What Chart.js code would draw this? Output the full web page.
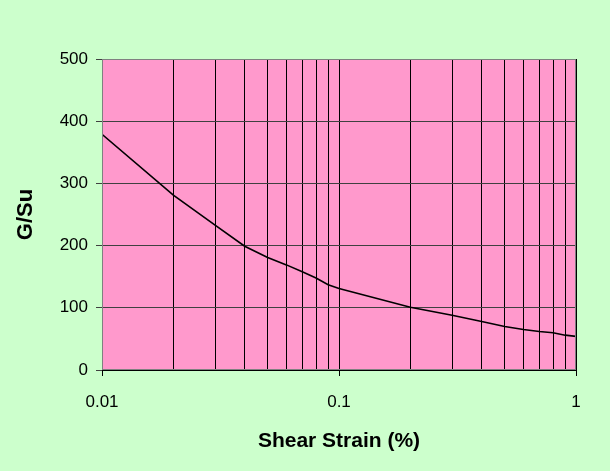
<!DOCTYPE html>
<html>
<head>
<meta charset="utf-8">
<script src="https://cdn.jsdelivr.net/npm/chart.js@4/dist/chart.umd.min.js"></script>
<style>
  html, body { margin: 0; padding: 0; background: #ccffcc; }
  #wrap { width: 610px; height: 471px; }
</style>
</head>
<body>
<div id="wrap"><canvas id="grafico" width="610" height="471"></canvas></div>
<script>
// shear strain (%) and G/Su
const strain = [0.01, 0.02, 0.03, 0.04, 0.05, 0.06, 0.07, 0.08, 0.09, 0.1,
                0.2, 0.3, 0.4, 0.5, 0.6, 0.7, 0.8, 0.9, 1];
const gsu = [379, 281, 233, 199, 181, 169, 158, 148, 137, 131,
             101, 88, 78, 70, 65, 62, 60, 56, 54];

// tick values for the log axis (grid lines at every 1..9 step)
const xTicks = [0.01, 0.02, 0.03, 0.04, 0.05, 0.06, 0.07, 0.08, 0.09,
                0.1, 0.2, 0.3, 0.4, 0.5, 0.6, 0.7, 0.8, 0.9, 1];
const xLabels = { 0.01: '0.01', 0.1: '0.1', 1: '1' };
const yTicks = [0, 100, 200, 300, 400, 500];

const isDecade = v => xLabels[v] !== undefined;

// fundo rosa da área do gráfico + moldura
const plotArea = {
  id: 'plotArea',
  beforeDraw(chart) {
    const { ctx, chartArea: a } = chart;
    ctx.save();
    ctx.fillStyle = '#ff99cc';
    ctx.fillRect(a.left, a.top, a.right - a.left, a.bottom - a.top);
    ctx.restore();
  },
  afterDraw(chart) {
    const { ctx, chartArea: a } = chart;
    ctx.save();
    ctx.strokeStyle = '#808080';
    ctx.lineWidth = 1;
    ctx.strokeRect(a.left + 0.5, a.top + 0.5, a.right - a.left - 1, a.bottom - a.top - 1);
    ctx.restore();
  }
};

Chart.defaults.font.family = '"Liberation Sans", Arial, sans-serif';
Chart.defaults.color = '#000';

new Chart(document.getElementById('grafico').getContext('2d'), {
  type: 'line',
  data: {
    datasets: [{
      data: strain.map((s, i) => ({ x: s, y: gsu[i] })),
      borderColor: '#000',
      borderWidth: 1.6,
      pointRadius: 0,
      tension: 0,
      fill: false
    }]
  },
  options: {
    responsive: false,
    animation: false,
    layout: { padding: { top: 59, right: 34, left: 0, bottom: 0 } },
    plugins: { legend: { display: false }, tooltip: { enabled: false } },
    scales: {
      x: {
        type: 'logarithmic',
        min: 0.01,
        max: 1,
        afterBuildTicks: s => { s.ticks = xTicks.map(v => ({ value: v, major: isDecade(v) })); },
        afterFit: s => { s.height = 101; },
        ticks: {
          autoSkip: false,
          maxRotation: 0,
          padding: 16,
          font: { size: 17 },
          callback: v => xLabels[v] || ''
        },
        grid: {
          color: '#000',
          lineWidth: 1,
          tickLength: 6,
          tickColor: c => (c.tick && isDecade(c.tick.value)) ? '#000' : 'rgba(0,0,0,0)'
        },
        border: { color: '#000' },
        title: {
          display: true,
          text: 'Shear Strain (%)',
          font: { size: 21, weight: 'bold' },
          padding: { top: 17, bottom: 17 }
        }
      },
      y: {
        min: 0,
        max: 500,
        afterBuildTicks: s => { s.ticks = yTicks.map(v => ({ value: v })); },
        afterFit: s => { s.width = 102; },
        ticks: { padding: 8, font: { size: 17 } },
        grid: { color: '#404040', lineWidth: 1, tickLength: 6, tickColor: '#404040' },
        border: { color: '#000' },
        title: {
          display: true,
          text: 'G/Su',
          font: { size: 22, weight: 'bold' },
          padding: { top: 13, bottom: 13 }
        }
      }
    }
  },
  plugins: [plotArea]
});
</script>
</body>
</html>
